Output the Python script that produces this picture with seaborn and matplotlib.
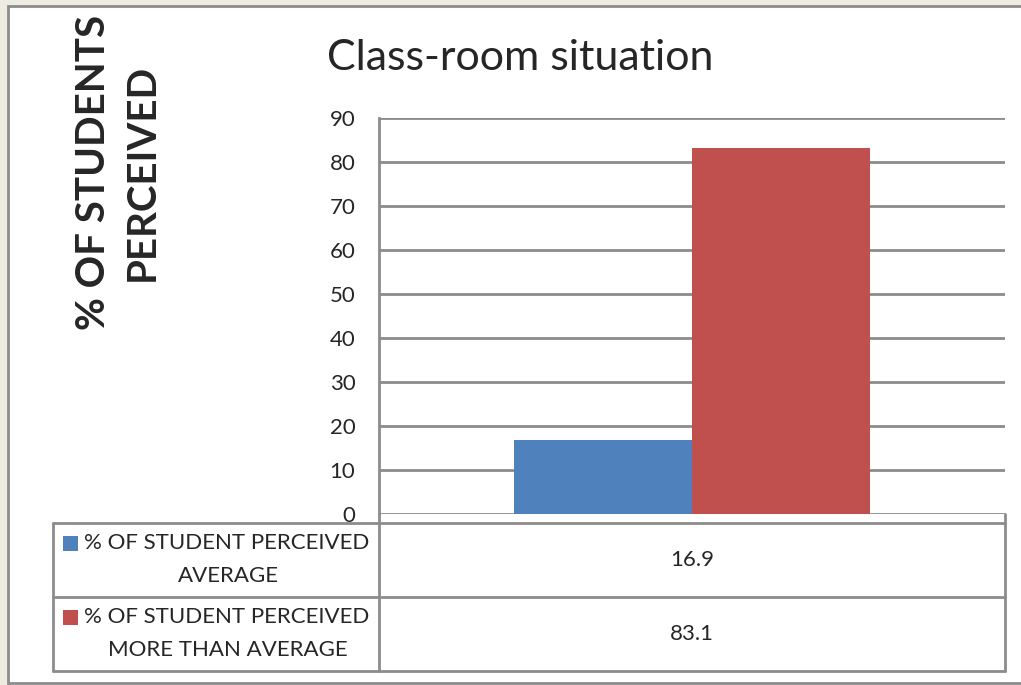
import matplotlib.pyplot as plt
import matplotlib.patches as mpatches
from matplotlib.lines import Line2D
import seaborn as sns
import pandas as pd

# data
category = ["Class-room situation"]
series = ["% OF STUDENT PERCEIVED\nAVERAGE", "% OF STUDENT PERCEIVED\nMORE THAN AVERAGE"]
values = [16.9, 83.1]
colors = ["#4F81BD", "#C0504D"]
yticks = [0, 10, 20, 30, 40, 50, 60, 70, 80, 90]

sns.set_style("white")
plt.rcParams["font.family"] = ["Lato", "DejaVu Sans"]

W, H = 1021, 685
fig = plt.figure(figsize=(W / 100, H / 100), dpi=100, facecolor="#EEEBE1")


def fx(x):
    return x / W


def fy(y):
    return 1 - y / H


# white panel with grey border
fig.add_artist(mpatches.Rectangle((fx(8), fy(683)), 1.2, fy(6) - fy(683), transform=fig.transFigure,
                                  facecolor="white", edgecolor="#8C8C8C", lw=2, zorder=0))

ax = fig.add_axes([fx(379), fy(514), fx(1005) - fx(379), fy(118) - fy(514)])
df = pd.DataFrame({"cat": category * len(values), "series": series, "value": values})
sns.barplot(data=df, x="cat", y="value", hue="series", palette=colors, width=0.57,
            saturation=1, ax=ax, legend=False, edgecolor="none")

ax.set_ylim(0, 90)
ax.set_xlim(-0.5, 0.5)
ax.set_yticks(yticks)
ax.set_yticklabels([str(t) for t in yticks], fontsize=16)
ax.set_xticks([])
ax.set_xlabel("")
ax.set_ylabel("")
ax.yaxis.grid(True, color="#8C8C8C", lw=2)
ax.set_axisbelow(True)
for s in ["top", "right", "bottom"]:
    ax.spines[s].set_visible(False)
ax.spines["left"].set_color("#8C8C8C")
ax.spines["left"].set_linewidth(2)
ax.tick_params(axis="y", length=0, pad=17)
ax.set_facecolor("white")

fig.text(fx(520), fy(58), "Class-room situation", fontsize=31, ha="center", va="center")
fig.text(fx(118), fy(172), "% OF STUDENTS\nPERCEIVED", fontsize=29, fontweight="bold",
         rotation=90, ha="center", va="center", linespacing=1.4)

# data table below the axis
grey = "#8C8C8C"


def hline(x0, x1, y):
    fig.add_artist(Line2D([fx(x0), fx(x1)], [fy(y), fy(y)], transform=fig.transFigure, color=grey, lw=2))


def vline(x, y0, y1):
    fig.add_artist(Line2D([fx(x), fx(x)], [fy(y0), fy(y1)], transform=fig.transFigure, color=grey, lw=2))


hline(53, 1005, 523)
hline(53, 1005, 597)
hline(53, 1005, 671)
vline(53, 523, 671)
vline(379, 514, 671)
vline(1005, 514, 671)

row_y = [560, 634]
for i, (name, val) in enumerate(zip(series, values)):
    first, second = name.split("\n")
    fig.add_artist(mpatches.Rectangle((fx(63), fy(row_y[i] - 9)), fx(15), fy(0) - fy(15),
                                      transform=fig.transFigure, facecolor=colors[i], edgecolor="none"))
    fig.text(fx(84), fy(row_y[i] - 17), first, fontsize=16, ha="left", va="center")
    fig.text(fx(228), fy(row_y[i] + 16), second, fontsize=16, ha="center", va="center")
    fig.text(fx(692), fy(row_y[i]), f"{val}", fontsize=16, ha="center", va="center")

fig.savefig("out.png", dpi=100, facecolor=fig.get_facecolor())
